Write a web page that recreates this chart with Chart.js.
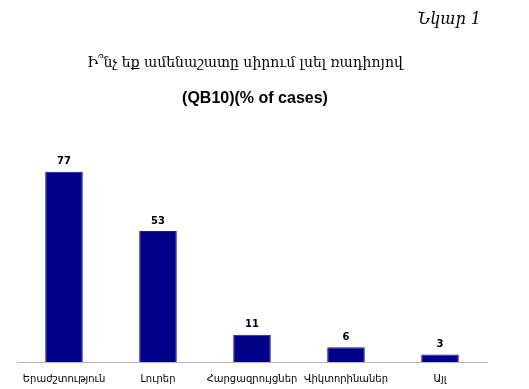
<!DOCTYPE html>
<html>
<head>
<meta charset="utf-8">
<script src="https://cdn.jsdelivr.net/npm/chart.js@4"></script>
<style>
  html, body { margin: 0; padding: 0; background: #fff; overflow: hidden; }
  #wrap { position: relative; width: 529px; height: 389px; overflow: hidden; }
  canvas { display: block; }
  .txt { position: absolute; white-space: nowrap; color: #000; }
  #fig { right: 48px; top: 9px; font: italic 16px "DejaVu Serif", serif; }
  #title { left: 0; width: 490px; text-align: center; top: 54px; font: 14px "DejaVu Serif", serif; }
  #sub { left: 0; width: 510px; text-align: center; top: 89px; font: bold 16px "Liberation Sans", Arial, sans-serif; }
</style>
</head>
<body>
<div id="wrap">
  <canvas id="myChart" width="529" height="396"></canvas>
  <div class="txt" id="fig">Նկար 1</div>
  <div class="txt" id="title">Ի՞նչ եք ամենաշատը սիրում լսել ռադիոյով</div>
  <div class="txt" id="sub">(QB10)(% of cases)</div>
</div>
<script>
// chart data
const categories = ["Երաժշտություն", "Լուրեր", "Հարցազրույցներ", "Վիկտորինաներ", "Այլ"];
const values = [77, 53, 11, 6, 3];

// draw value labels above each bar
const valueLabels = {
  id: 'valueLabels',
  afterDatasetsDraw(chart) {
    const ctx = chart.ctx;
    const meta = chart.getDatasetMeta(0);
    ctx.save();
    ctx.font = 'bold 10px "DejaVu Sans", sans-serif';
    ctx.fillStyle = '#000';
    ctx.textAlign = 'center';
    ctx.textBaseline = 'bottom';
    meta.data.forEach((bar, i) => {
      ctx.fillText(values[i], bar.x, bar.y - 5);
    });
    ctx.restore();
  }
};

const ctx = document.getElementById('myChart').getContext('2d');
new Chart(ctx, {
  type: 'bar',
  data: {
    labels: categories,
    datasets: [{
      data: values,
      backgroundColor: '#000088',
      borderColor: '#1a1a9a',
      borderWidth: 1,
      barPercentage: 0.4,
      categoryPercentage: 1.0,
    }]
  },
  options: {
    responsive: false,
    animation: false,
    layout: { padding: { left: 17, right: 42, top: 115, bottom: 0 } },
    plugins: {
      legend: { display: false },
      tooltip: { enabled: false },
    },
    scales: {
      y: {
        display: false,
        min: 0,
        max: 100,
      },
      x: {
        grid: { display: false, drawTicks: false },
        border: { display: true, color: '#b8b8b8', width: 1 },
        ticks: {
          color: '#000',
          padding: 11,
          maxRotation: 0,
          font: { family: '"DejaVu Sans", sans-serif', size: 10 },
        },
      },
    },
  },
  plugins: [valueLabels],
});
</script>
</body>
</html>
